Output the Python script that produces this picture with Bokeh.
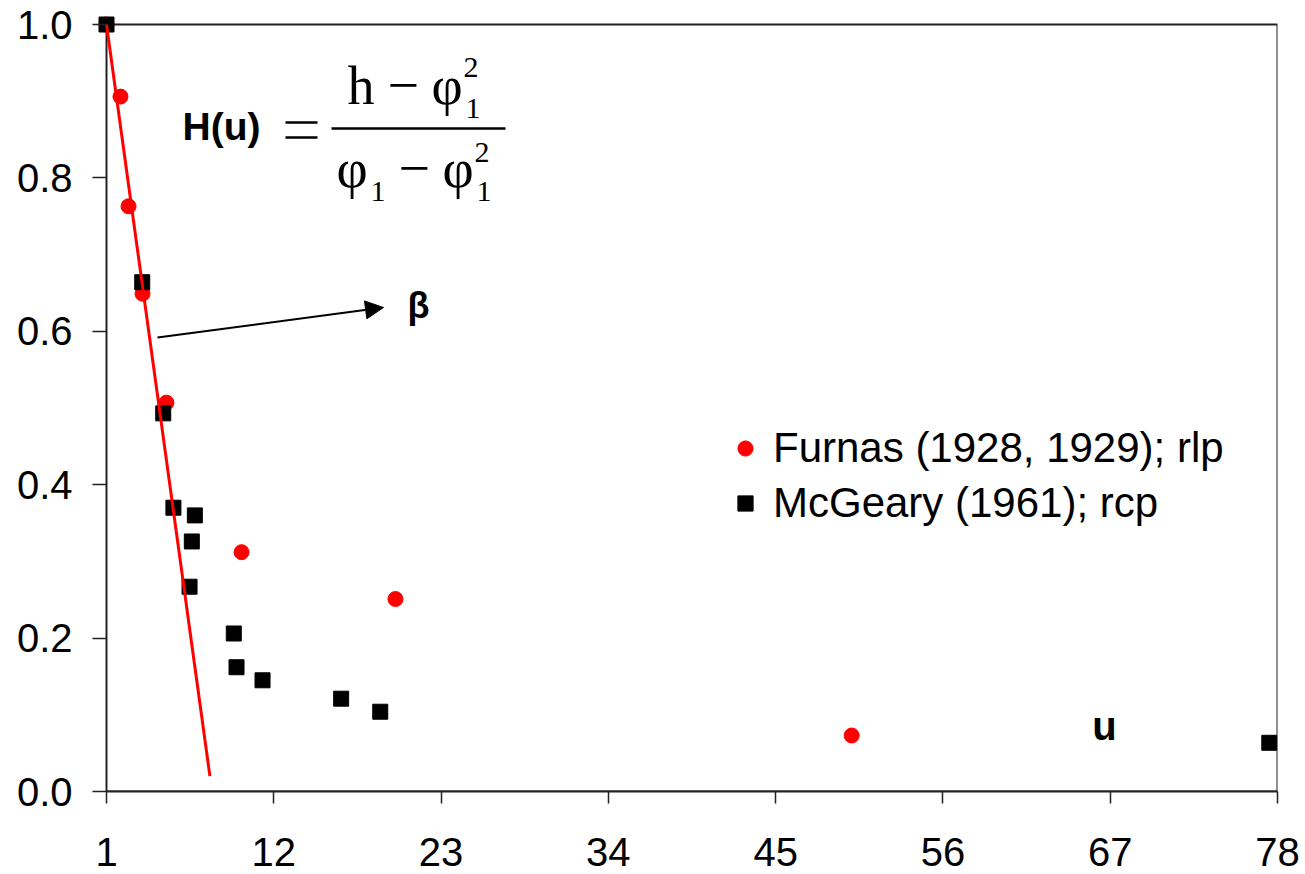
from bokeh.plotting import figure
from bokeh.models import (Range1d, FixedTicker, PrintfTickFormatter, Label, Arrow,
                          NormalHead, Legend, LegendItem, BoxAnnotation)
from bokeh.embed import file_html
from bokeh.resources import INLINE

# ---- data ----
furnas_u = [1.0, 1.92, 2.45, 3.37, 4.94, 9.88, 20.0, 50.0]
furnas_h = [1.0, 0.906, 0.763, 0.649, 0.507, 0.312, 0.251, 0.073]

mcgeary_u = [1.0, 3.35, 4.73, 5.40, 6.81, 6.61, 6.46, 9.37, 9.55, 11.26, 16.43, 19.0, 77.46]
mcgeary_h = [1.0, 0.664, 0.493, 0.370, 0.360, 0.326, 0.267, 0.206, 0.162, 0.145, 0.121, 0.104, 0.0635]

fit_u = [1.0, 7.8]
fit_h = [1.0, 0.02]

x_ticks = [1, 12, 23, 34, 45, 56, 67, 78]
y_ticks = [0.0, 0.2, 0.4, 0.6, 0.8, 1.0]
x_min, x_max = 1, 78
y_min, y_max = 0.0, 1.0

# ---- layout (pixels) ----
W, H = 1305, 874
AX_L, AX_R, AX_T, AX_B = 106, 1277, 24, 791     # where the axes box sits
PAD = 12                                          # room so edge markers are not cut
px_per_x = (AX_R - AX_L) / (x_max - x_min)
px_per_y = (AX_B - AX_T) / (y_max - y_min)

p = figure(width=W, height=H, output_backend="svg", toolbar_location=None,
           x_range=Range1d(x_min - PAD / px_per_x, x_max),
           y_range=Range1d(y_min, y_max + PAD / px_per_y),
           min_border_left=AX_L - PAD, min_border_right=W - AX_R,
           min_border_top=AX_T - PAD, min_border_bottom=H - AX_B)
p.background_fill_color = "white"
p.border_fill_color = "white"
p.xgrid.visible = False
p.ygrid.visible = False
p.outline_line_color = None

SANS = "Liberation Sans"
SERIF = "Liberation Serif"

for ax in (p.xaxis[0], p.yaxis[0]):
    ax.axis_line_color = "#222222"
    ax.axis_line_width = 2
    ax.major_tick_line_color = "#222222"
    ax.major_tick_line_width = 1.5
    ax.minor_tick_line_color = None
    ax.major_label_text_font = SANS
    ax.major_label_text_font_size = "40px"
    ax.major_label_text_color = "black"

p.xaxis.ticker = FixedTicker(ticks=x_ticks)
p.yaxis.ticker = FixedTicker(ticks=y_ticks)
p.yaxis.formatter = PrintfTickFormatter(format="%.1f")
p.xaxis.bounds = (x_min, x_max)
p.yaxis.bounds = (y_min, y_max)
p.xaxis.major_tick_in = 0
p.xaxis.major_tick_out = 12
p.xaxis.major_label_standoff = 34
# y axis sits PAD px left of the box edge; its line is drawn by the box below
p.yaxis.axis_line_color = None
p.yaxis.major_tick_in = PAD
p.yaxis.major_tick_out = 14 - PAD
p.yaxis.major_label_standoff = 20

# box around the plotting area
p.add_layout(BoxAnnotation(left=x_min, right=x_max, bottom=y_min, top=y_max,
                           fill_alpha=0, line_color="#222222", line_alpha=1,
                           line_width=2, level="underlay"))

# ---- data marks ----
r_f = p.scatter(furnas_u, furnas_h, marker="circle", size=15, fill_color="red",
                line_color="red")
r_m = p.scatter(mcgeary_u, mcgeary_h, marker="square", size=15, fill_color="black",
                line_color="black")
p.line(fit_u, fit_h, line_color="red", line_width=3)

# ---- helpers to place annotations by pixel position ----
def dx(px):
    return x_min + (px - AX_L) / px_per_x

def dy(py):
    return y_min + (AX_B - py) / px_per_y

def lab(text, px, py, size, font=SERIF, style="normal", align="left"):
    # py is the wanted baseline; shift for how the baseline is drawn
    p.add_layout(Label(x=dx(px), y=dy(py - 0.4 * size), text=text, text_font=font,
                       text_font_size=f"{size}px", text_font_style=style,
                       text_align=align, text_baseline="alphabetic", text_color="black"))

def labm(text, px, py, size, font=SANS, style="bold"):
    p.add_layout(Label(x=dx(px), y=dy(py), text=text, text_font=font,
                       text_font_size=f"{size}px", text_font_style=style,
                       text_align="center", text_baseline="middle", text_color="black"))

def hbar(x0, x1, py, w):
    p.segment(x0=[dx(x0)], y0=[dy(py)], x1=[dx(x1)], y1=[dy(py)],
              line_color="black", line_width=w)

# formula: H(u) = (h - phi1^2) / (phi1 - phi1^2)
lab("H(u)", 182, 142, 39, font=SANS, style="bold")
hbar(285, 317, 122, 2.5)
hbar(285, 317, 137, 2.5)
lab("h", 347, 107, 54)
lab("\u2212", 387, 107, 56)
lab("\u03c6", 431, 107, 54)
lab("2", 463, 79, 30)
lab("1", 465, 120, 30)
hbar(331, 505, 128, 2.5)
lab("\u03c6", 336, 190, 54)
lab("1", 370, 203, 30)
lab("\u2212", 398, 190, 56)
lab("\u03c6", 442, 190, 54)
lab("2", 474, 164, 30)
lab("1", 476, 203, 30)

# beta arrow
p.add_layout(Arrow(x_start=dx(157), y_start=dy(337), x_end=dx(383), y_end=dy(307),
                   line_color="black", line_width=2,
                   end=NormalHead(size=18, fill_color="black", line_color="black")))
labm("\u03b2", 418, 305, 36)
labm("u", 1104, 725, 40)

# ---- legend ----
legend = Legend(items=[LegendItem(label="Furnas (1928, 1929); rlp", renderers=[r_f]),
                       LegendItem(label="McGeary (1961); rcp", renderers=[r_m])],
                location=(726 - (AX_L - PAD), 264), orientation="vertical",
                glyph_width=38, glyph_height=38, label_standoff=9,
                spacing=7, padding=0, margin=0,
                label_text_font=SANS, label_text_font_size="42px",
                label_text_color="black",
                border_line_alpha=0, background_fill_alpha=0)
p.add_layout(legend)

open("out.html", "w").write(file_html(p, INLINE))
